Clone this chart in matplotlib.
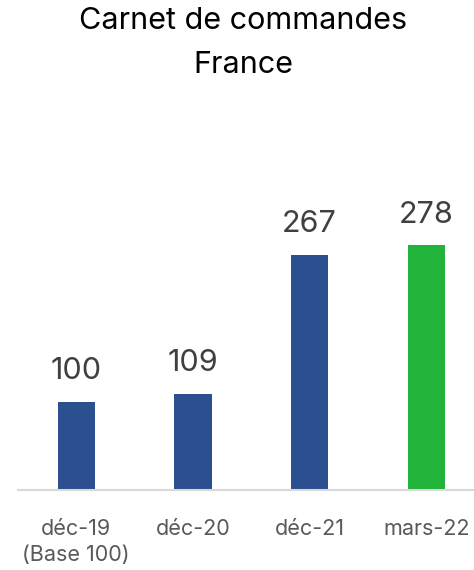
import matplotlib
matplotlib.use("Agg")
import matplotlib.pyplot as plt

plt.rcParams['font.family'] = ['Inter', 'DejaVu Sans']

categories = ['déc-19\n(Base 100)', 'déc-20', 'déc-21', 'mars-22']
values = [100, 109, 267, 278]
colors = ['#2C4F8F', '#2C4F8F', '#2C4F8F', '#22B33A']

fig = plt.figure(figsize=(4.74, 5.70), dpi=100)
ax = fig.add_axes([18 / 474, 80 / 570, 456 / 474, 360 / 570])

x = range(len(values))
bars = ax.bar(x, values, width=0.32, color=colors, zorder=2)

for b, v in zip(bars, values):
    ax.text(b.get_x() + b.get_width() / 2, v + 19, str(v),
            ha='center', va='bottom', fontsize=22, color='#404040')

ax.set_xlim(-0.5, 3.41)
ax.set_ylim(0, 409)
ax.set_xticks(list(x))
ax.set_xticklabels(categories, fontsize=15.5, color='#595959', linespacing=1.35,
                   va='top')
ax.tick_params(axis='x', length=0, pad=21)
ax.set_yticks([])
for s in ['top', 'right', 'left']:
    ax.spines[s].set_visible(False)
ax.spines['bottom'].set_color('#D9D9D9')
ax.spines['bottom'].set_linewidth(1.5)

fig.text(243 / 474, 1 - 43 / 570, 'Carnet de commandes\nFrance', ha='center',
         va='center', fontsize=22, color='black', linespacing=1.75)

fig.savefig('out.png', dpi=100)
